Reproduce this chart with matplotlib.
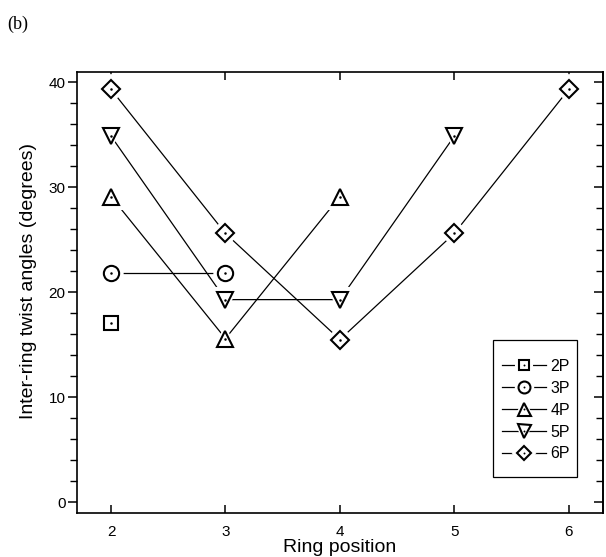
import matplotlib
matplotlib.use("Agg")
import matplotlib.pyplot as plt
from matplotlib.legend_handler import HandlerTuple
from matplotlib.patches import Rectangle
from matplotlib.ticker import MultipleLocator

# Ring positions and inter-ring twist angles (degrees) per oligomer length
ring_positions = [2, 3, 4, 5, 6]
series_names = ["2P", "3P", "4P", "5P", "6P"]
twist_2p = [17.1]
twist_3p = [21.8, 21.8]
twist_4p = [29.1, 15.6, 29.1]
twist_5p = [34.85, 19.3, 19.3, 34.85]
twist_6p = [39.3, 25.6, 15.5, 25.6, 39.3]

all_twists = [twist_2p, twist_3p, twist_4p, twist_5p, twist_6p]
marker_shapes = ["s", "o", "^", "v", "D"]
marker_sizes = [9.5, 11, 12, 12, 9.5]

plt.rcParams["font.family"] = ["Liberation Sans", "DejaVu Sans"]

fig = plt.figure(figsize=(6.06, 5.57), dpi=100)
ax = fig.add_axes([0.1266, 0.079, 0.8685, 0.7926])

handles = []
for name, vals, mk, ms in zip(series_names, all_twists, marker_shapes, marker_sizes):
    xs = ring_positions[:len(vals)]
    ln, = ax.plot(xs, vals, color="black", lw=0.9, zorder=2)
    halo, = ax.plot(xs, vals, ls="none", marker=mk, ms=ms + 5, mfc="white",
                    mec="white", mew=1.5, zorder=3)
    mark, = ax.plot(xs, vals, ls="none", marker=mk, ms=ms, mfc="white",
                    mec="black", mew=1.5, zorder=4)
    dot, = ax.plot(xs, vals, ls="none", marker="o", ms=1.8, mfc="black",
                   mec="black", mew=0, zorder=5)
    handles.append((ln, halo, mark, dot))

ax.set_xlim(1.7, 6.3)
ax.set_ylim(-1, 41)
ax.set_xticks(ring_positions)
ax.yaxis.set_major_locator(MultipleLocator(10))
ax.yaxis.set_minor_locator(MultipleLocator(2))

for sp in ax.spines.values():
    sp.set_linewidth(1.2)

ax.tick_params(axis="x", which="major", direction="in", top=True, bottom=True,
               length=6, width=1.1, labelsize=11, pad=9)
ax.tick_params(axis="y", which="major", direction="out", left=True, right=False,
               length=6.5, width=1.1, labelsize=11, pad=1.5)
ax.tick_params(axis="y", which="minor", direction="out", left=True, right=False,
               length=5, width=1.0)

# inward ticks along the right edge
sec = ax.secondary_yaxis("right")
sec.yaxis.set_major_locator(MultipleLocator(10))
sec.yaxis.set_minor_locator(MultipleLocator(2))
sec.tick_params(axis="y", which="major", direction="in", length=6.5, width=1.1,
                labelright=False)
sec.tick_params(axis="y", which="minor", direction="in", length=5, width=1.0)
sec.spines["right"].set_linewidth(1.2)

ax.set_xlabel("Ring position", fontsize=14, labelpad=0)
ax.set_ylabel("Inter-ring twist angles (degrees)", fontsize=14)
ax.yaxis.set_label_coords(-0.0754, 0.525)

# legend entries without frame; the box is drawn separately
leg = ax.legend(handles, series_names, handler_map={tuple: HandlerTuple(ndivide=1)},
                loc="upper left", bbox_to_anchor=(0.8075, 0.349), numpoints=1,
                fontsize=11.5, markerscale=0.78, handlelength=2.8,
                handletextpad=0.25, labelspacing=0.43, borderpad=0,
                borderaxespad=0, frameon=False)
ax.add_patch(Rectangle((0.791, 0.0815), 0.9506 - 0.791, 0.3918 - 0.0815,
                       transform=ax.transAxes, fill=False, edgecolor="black",
                       linewidth=0.9, zorder=6))

fig.text(0.012, 0.957, "(b)", fontsize=13, family=["Liberation Serif", "DejaVu Serif"],
         ha="left", va="center")

fig.savefig("out.png", dpi=100)
